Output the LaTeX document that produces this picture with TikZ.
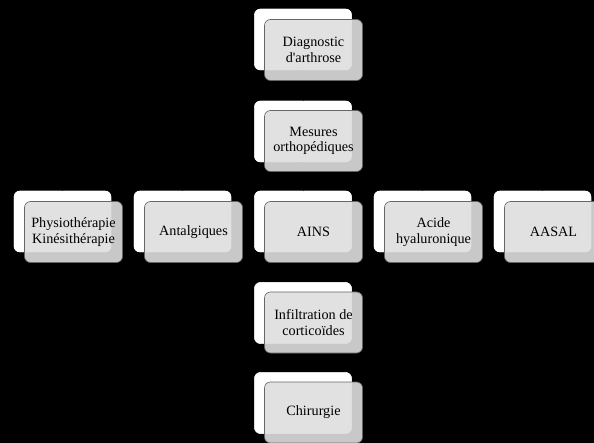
\documentclass[tikz,border=0pt]{standalone}
\usepackage{fontspec}
\setmainfont{Liberation Serif}
\begin{document}
\begin{tikzpicture}[x=1pt,y=-1pt,
  backbox/.style={draw=white,fill=white,rounded corners=6pt,minimum width=97pt,minimum height=61pt,inner sep=0pt},
  frontbox/.style={draw=black!60,line width=0.6pt,fill={rgb,255:red,222;green,222;blue,222},fill opacity=0.9,rounded corners=6pt,minimum width=98pt,minimum height=61pt,inner sep=0pt,align=center,text opacity=1,font=\fontsize{14.2}{15.5}\selectfont},
  conn/.style={draw=black,line width=0.8pt}]
\fill[black] (0,0) rectangle (594,443);
\useasboundingbox (0,0) rectangle (594,443);
% back boxes (centers)
\node[backbox] (bdiag) at (303,39.5) {};
\node[backbox] (bmes) at (303,131.5) {};
\node[backbox] (bphy) at (62.5,221.5) {};
\node[backbox] (bant) at (182.5,221.5) {};
\node[backbox] (bains) at (303,221.5) {};
\node[backbox] (bacide) at (422.5,221.5) {};
\node[backbox] (baasal) at (542.5,221.5) {};
\node[backbox] (binf) at (303,313) {};
\node[backbox] (bchi) at (303,403) {};
% connectors
\draw[conn] (bdiag.south) -- (bmes.north);
\draw[conn] (bmes.south) -- (bains.north);
\draw[conn] (bmes.south) -- ++(0,14) -| (bphy.north);
\draw[conn] (bmes.south) -- ++(0,14) -| (bant.north);
\draw[conn] (bmes.south) -- ++(0,14) -| (bacide.north);
\draw[conn] (bmes.south) -- ++(0,14) -| (baasal.north);
\draw[conn] (bains.south) -- (binf.north);
\draw[conn] (binf.south) -- (bchi.north);
% redraw back boxes over connectors
\foreach \b in {bdiag,bmes,bphy,bant,bains,bacide,baasal,binf,bchi}{
  \fill[white,rounded corners=6pt] (\b.north west) rectangle (\b.south east);}
% connector segments that run under the front boxes
\draw[conn] (bdiag.south) -- ++(0,11);
\draw[conn] (bmes.south) -- ++(0,11);
\draw[conn] (bains.south) -- ++(0,11);
\draw[conn] (binf.south) -- ++(0,11);
% front boxes
\node[frontbox] (diag) at (313.5,50) {Diagnostic\\d\textquotesingle arthrose};
\node[frontbox] (mes) at (313.5,141) {Mesures\\orthopédiques};
\node[frontbox] (phy) at (73.5,232) {Physiothérapie\\Kinésithérapie};
\node[frontbox] (ant) at (193.5,232) {Antalgiques};
\node[frontbox] (ains) at (313.5,232) {AINS};
\node[frontbox] (acide) at (433.5,232) {Acide\\hyaluronique};
\node[frontbox] (aasal) at (553.5,232) {AASAL};
\node[frontbox] (inf) at (313.5,322.5) {Infiltration de\\corticoïdes};
\node[frontbox] (chi) at (313.5,412.5) {Chirurgie};
\end{tikzpicture}
\end{document}
